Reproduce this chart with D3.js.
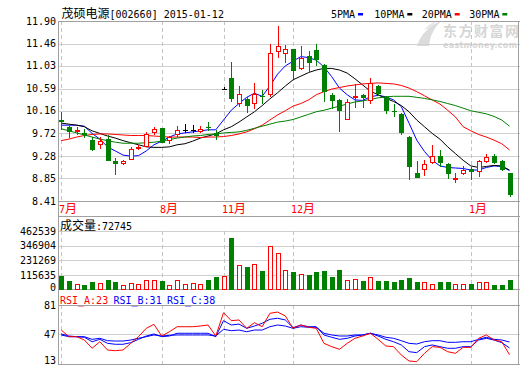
<!DOCTYPE html>
<html><head><meta charset="utf-8">
<script src="https://cdn.jsdelivr.net/npm/d3@7"></script>
<style>body{margin:0;background:#fff}svg{display:block}</style>
</head><body>
<svg id="c" width="520" height="365"></svg>
<script>
const dates = ["2014-07-15","2014-07-16","2014-07-17","2014-07-18","2014-07-21","2014-07-22","2014-07-23","2014-07-24","2014-07-25","2014-07-28","2014-07-29","2014-07-30","2014-07-31",
"2014-08-01","2014-08-04","2014-08-05","2014-08-06","2014-08-07","2014-08-08","2014-08-11","2014-08-12",
"2014-11-18","2014-11-19","2014-11-20","2014-11-21","2014-11-24","2014-11-25","2014-11-26","2014-11-27","2014-11-28",
"2014-12-01","2014-12-02","2014-12-03","2014-12-04","2014-12-05","2014-12-08","2014-12-09","2014-12-10","2014-12-11","2014-12-12","2014-12-15","2014-12-16","2014-12-17","2014-12-18","2014-12-19","2014-12-22","2014-12-23","2014-12-24","2014-12-25","2014-12-26","2014-12-29","2014-12-30","2014-12-31",
"2015-01-05","2015-01-06","2015-01-07","2015-01-08","2015-01-09","2015-01-12"];
const open  = [9.98,9.85,9.75,9.73,9.59,9.49,9.61,9.19,9.12,9.20,9.43,9.46,9.72,9.82,9.58,9.69,9.78,9.78,9.75,9.84,9.72,10.59,10.79,10.29,10.38,10.29,10.44,10.47,11.29,11.26,11.35,10.96,11.22,11.34,11.05,10.47,10.37,9.99,10.42,10.47,10.34,10.64,10.43,10.16,10.10,9.66,8.96,9.02,9.14,9.28,9.13,8.84,8.93,9.04,8.98,9.17,9.28,9.19,8.95];
const high  = [10.14,9.86,9.84,9.80,9.66,9.65,9.68,9.25,9.21,9.46,9.50,9.75,9.85,9.83,9.67,9.87,9.90,9.89,9.86,9.95,9.79,10.62,11.11,10.64,10.43,10.69,10.57,11.46,11.81,11.43,11.36,11.41,11.32,11.45,11.07,10.50,10.38,10.38,10.68,10.48,10.79,10.66,10.45,10.30,10.12,9.67,9.19,9.21,9.49,9.40,9.14,8.95,9.09,9.07,9.21,9.32,9.32,9.20,8.95];
const low   = [9.79,9.64,9.69,9.64,9.38,9.42,9.19,8.91,9.10,9.20,9.39,9.46,9.69,9.53,9.52,9.65,9.73,9.73,9.73,9.77,9.59,10.56,10.32,10.23,10.12,10.19,10.30,10.43,11.18,11.08,10.78,10.95,10.89,11.03,10.32,10.19,9.75,9.98,10.21,10.21,10.30,10.45,10.10,10.03,9.69,8.82,8.85,8.89,9.13,9.06,8.83,8.75,8.91,8.82,8.88,9.14,9.13,9.00,8.48];
const close = [9.94,9.75,9.79,9.68,9.40,9.58,9.19,9.12,9.19,9.41,9.46,9.71,9.80,9.54,9.65,9.79,9.78,9.78,9.81,9.82,9.67,10.59,10.38,10.48,10.25,10.49,10.42,11.27,11.41,11.35,10.94,11.18,11.08,11.14,10.53,10.34,10.16,10.32,10.45,10.41,10.69,10.48,10.16,10.14,9.73,9.06,8.86,9.12,9.28,9.15,8.93,8.85,9.02,8.98,9.19,9.26,9.14,9.02,8.53];
const volume = [110000,65000,47000,39000,58000,55000,79000,58000,37000,55000,47000,79000,79000,65000,37000,79000,47000,55000,47000,73000,102000,110000,410000,197000,181000,205000,151000,347000,290000,158000,143000,126000,118000,136000,150000,97000,158000,79000,87000,71000,100000,71000,71000,58000,79000,95000,58000,58000,47000,58000,58000,47000,47000,47000,58000,58000,39000,39000,72745];
const ma5  = [9.88,9.88,9.88,9.86,9.72,9.61,9.46,9.38,9.30,9.28,9.29,9.38,9.50,9.57,9.65,9.71,9.73,9.75,9.77,9.79,9.79,9.98,10.17,10.30,10.42,10.50,10.44,10.64,10.87,11.03,11.12,11.21,11.19,11.14,11.01,10.82,10.60,10.47,10.37,10.36,10.43,10.46,10.43,10.37,10.24,9.92,9.59,9.37,9.20,9.09,9.06,9.05,9.04,9.01,9.01,9.06,9.09,9.08,9.00];
const ma10 = [9.92,9.90,9.88,9.85,9.77,9.72,9.67,9.63,9.58,9.54,9.50,9.46,9.45,9.45,9.46,9.50,9.52,9.57,9.63,9.67,9.71,9.79,9.85,9.94,10.04,10.14,10.26,10.39,10.51,10.64,10.76,10.83,10.90,10.95,10.98,10.98,10.95,10.89,10.78,10.66,10.54,10.47,10.40,10.34,10.26,10.14,9.98,9.85,9.72,9.61,9.46,9.33,9.20,9.09,9.06,9.08,9.10,9.09,9.01];
const ma20 = [9.58,9.61,9.65,9.68,9.70,9.71,9.71,9.70,9.69,9.68,9.68,9.68,9.67,9.66,9.65,9.65,9.65,9.65,9.64,9.65,9.65,9.66,9.68,9.71,9.75,9.81,9.88,9.98,10.08,10.16,10.25,10.30,10.37,10.47,10.53,10.58,10.61,10.64,10.66,10.68,10.69,10.70,10.69,10.68,10.65,10.60,10.53,10.45,10.37,10.29,10.17,10.04,9.85,9.77,9.70,9.65,9.59,9.52,9.40];
const ma30 = [9.81,9.77,9.73,9.69,9.65,9.61,9.58,9.55,9.53,9.53,9.53,9.54,9.55,9.57,9.60,9.63,9.65,9.67,9.68,9.70,9.71,9.73,9.74,9.75,9.78,9.82,9.86,9.90,9.94,9.96,9.99,10.04,10.09,10.14,10.17,10.21,10.25,10.29,10.33,10.35,10.38,10.41,10.43,10.44,10.44,10.44,10.42,10.40,10.37,10.34,10.30,10.26,10.21,10.16,10.13,10.10,10.05,9.98,9.86];
const rsiA = [52,44.2,44.2,40.3,30.6,38.3,28.6,27.8,28.6,36.4,44.2,54,58.7,45,50,55.9,55.9,55.9,56.7,57.9,45,72.3,63,63.8,54,60.6,55.9,71.6,73.1,68.5,54,57.9,55.2,54,36.4,32.5,29.4,36.4,42.3,45,48.2,41.1,33.3,32.5,22.7,15.7,14.9,24.7,32.5,31.7,26.6,24.7,31.7,31.7,42.3,46.2,40.3,38.3,23];
const rsiB = [47.4,45,44.2,43.5,38.3,41.1,36.4,35.3,35.3,37.2,41.1,45,47.4,44.2,45,48.2,48.2,48.2,48.2,48.2,44.2,63,57.9,59,54,56.7,59.9,64.6,65.8,63.8,54.8,57.9,55.9,55.9,46.2,43.5,41.1,42.3,45,46.2,48.2,45,41.1,38.3,34.5,26.6,25.5,32.5,34.5,32.5,30.6,30.6,32.5,32.5,40.3,42.3,40.3,37.2,31];
const rsiC = [46.2,44.2,44.2,44.2,41.1,42.3,39.5,39.1,39.1,40.3,42.3,44.2,46.2,45,45.8,46.2,46.2,46.2,46.2,46.2,45,52.9,51.2,52,50,52,52,55.9,57.9,56.7,54,55.9,55.2,55.2,48.2,46.2,45,45,46.2,46.2,48.2,46.2,43.5,42.3,39.5,36.4,35.6,38.3,39.5,39.5,37.6,37.6,38.3,38.3,41.1,43.5,41.1,40.3,38];
const priceTicks = [11.90,11.46,11.03,10.59,10.16,9.72,9.28,8.85,8.41];
const volumeTicks = [462539,346904,231269,115635,0];
const rsiTicks = [81,47,13];
const maNames = ["5PMA","10PMA","20PMA","30PMA"];
const maColors = ["#0000ff","#000000","#ff0000","#008000"];
const title = "茂硕电源[002660] 2015-01-12";
const volTitle = "成交量:72745";
const rsiLabels = ["RSI_A:23","RSI_B:31","RSI_C:38"];

const RED="#ff0000", GREEN="#008000", FRAME="#a0a0a0", GRID="#d0d0d0";
const MONO="DejaVu Sans Mono", CJK="Noto Sans CJK SC";
const svg = d3.select("#c");
const L = 58.5, R = 519.5;

const x = d3.scalePoint().domain(dates).range([61.2, 509.5]);
const yP = d3.scaleLinear().domain([8.41, 11.90]).range([201, 21]);
const yV = d3.scaleLinear().domain([0, 462539]).range([289.5, 231.3]);
const yR = d3.scaleLinear().domain([13, 81]).range([363.3, 305.3]);
const px = d => Math.round(x(d)) + 0.5;

function mixed(g, tx, ty, str, fill, anchor) {
  const t = g.append("text").attr("x", tx).attr("y", ty).attr("fill", fill || "#000");
  if (anchor) t.attr("text-anchor", anchor);
  const runs = str.match(/[\u3000-\u9fff\uff00-\uffef]+|[^\u3000-\u9fff\uff00-\uffef]+/g);
  runs.forEach(r => {
    const cj = /[\u3000-\u9fff]/.test(r);
    t.append("tspan").text(r).attr("font-family", cj ? CJK : MONO)
      .attr("font-size", cj ? 12 : 10).attr("xml:space","preserve");
  });
  return t;
}

// watermark
const wm = svg.append("g");
wm.append("path").attr("d","M417,46 C420,36 428,26 441,21 C434,28 430,36 429,46 Z").attr("fill","#dcdcdc");
wm.append("path").attr("d","M424,30 C427,26 431,23 436,21 L432,27 Z").attr("fill","#e6e6e6");
wm.append("text").attr("x",443).attr("y",35.5).text("东方财富网").attr("font-family",CJK)
  .attr("font-size",14).attr("font-weight","bold").attr("fill","#d6d6d6").attr("textLength",76);
wm.append("text").attr("x",443).attr("y",48).text("eastmoney.com").attr("font-family","DejaVu Sans")
  .attr("font-size",8).attr("font-weight","bold").attr("fill","#d6d6d6").attr("textLength",74);

// month boundaries
const monthIdx = dates.map((d,i)=>i).filter(i => i===0 || dates[i].slice(0,7)!==dates[i-1].slice(0,7));

// grids
const grid = svg.append("g").attr("shape-rendering","crispEdges");
priceTicks.forEach(t => grid.append("line").attr("x1",L).attr("x2",R).attr("y1",Math.round(yP(t))+0.5).attr("y2",Math.round(yP(t))+0.5).attr("stroke",GRID));
volumeTicks.slice(0,4).forEach(t => grid.append("line").attr("x1",L).attr("x2",R).attr("y1",Math.round(yV(t))+0.5).attr("y2",Math.round(yV(t))+0.5).attr("stroke",GRID));
grid.append("line").attr("x1",L).attr("x2",R).attr("y1",Math.round(yR(47))+0.5).attr("y2",Math.round(yR(47))+0.5).attr("stroke",GRID);
monthIdx.forEach(i => {
  const xx = px(dates[i]);
  [[21,201],[231.3,289.5],[305.3,364]].forEach(([a,b]) =>
    grid.append("line").attr("x1",xx).attr("x2",xx).attr("y1",a).attr("y2",b)
      .attr("stroke","#c4c4c4").attr("stroke-dasharray","4,3"));
});

// frame
const fr = svg.append("g").attr("shape-rendering","crispEdges").attr("stroke",FRAME);
[21.5,201.5,216.5,289.5,305.5,364.5].forEach(y => fr.append("line").attr("x1",L).attr("x2",R).attr("y1",y).attr("y2",y));
[L, R-1].forEach(xx => fr.append("line").attr("x1",xx).attr("x2",xx).attr("y1",21).attr("y2",365));

// axis labels
const ax = svg.append("g").attr("font-family",MONO).attr("font-size",10).attr("fill","#000");
priceTicks.forEach(t => ax.append("text").attr("x",56).attr("y",yP(t)+3.6).attr("text-anchor","end").text(t.toFixed(2)));
volumeTicks.forEach(t => ax.append("text").attr("x",56).attr("y",Math.min(yV(t),287)+3.6).attr("text-anchor","end").text(t));
rsiTicks.forEach(t => ax.append("text").attr("x",56).attr("y",Math.min(yR(t),360)+3.6).attr("text-anchor","end").text(t));

// month labels
monthIdx.forEach(i => {
  const m = +dates[i].slice(5,7);
  mixed(svg, px(dates[i]) - 2.5, 213, m + "月", RED);
});

// title, legend
mixed(svg, 61.5, 18, title);
const lg = svg.append("g");
const legX = [331, 374.3, 421.7, 469.3];
maNames.forEach((n,k) => {
  lg.append("text").attr("x",legX[k]).attr("y",18).text(n).attr("font-family",MONO).attr("font-size",10);
  const w = n.length*6;
  lg.append("rect").attr("x",legX[k]+w+3).attr("y",13).attr("width",5).attr("height",2.5).attr("fill",maColors[k]);
});
mixed(svg, 60, 230, volTitle);
const rl = svg.append("g").attr("font-family",MONO).attr("font-size",10);
[[60,RED],[113.5,"#0000ff"],[167,"#0000ff"]].forEach(([xx,c],k) =>
  rl.append("text").attr("x",xx).attr("y",303.5).attr("fill",c).text(rsiLabels[k]));

// MA lines
const maG = svg.append("g").attr("fill","none").attr("stroke-width",1);
[ma5, ma10, ma20, ma30].forEach((arr,k) => {
  const line = d3.line().x((d,i)=>x(dates[i])).y(d=>yP(d));
  maG.append("path").attr("d", line(arr)).attr("stroke", maColors[k]);
});

// candles
const cg = svg.append("g").attr("shape-rendering","crispEdges");
dates.forEach((d,i) => {
  const cx = px(d), o=open[i], c=close[i], h=high[i], l=low[i];
  const yT = Math.round(yP(Math.max(o,c))), yB = Math.round(yP(Math.min(o,c)));
  const yH = Math.round(yP(h)), yL = Math.round(yP(l));
  if (c > o) {
    cg.append("line").attr("x1",cx).attr("x2",cx).attr("y1",yH).attr("y2",yT).attr("stroke",RED);
    cg.append("line").attr("x1",cx).attr("x2",cx).attr("y1",yB).attr("y2",yL).attr("stroke",RED);
    cg.append("rect").attr("x",cx-2).attr("y",yT+0.5).attr("width",4).attr("height",Math.max(1,yB-yT-1))
      .attr("fill","#fff").attr("stroke",RED);
  } else if (c < o) {
    cg.append("line").attr("x1",cx).attr("x2",cx).attr("y1",yH).attr("y2",yL).attr("stroke",GREEN);
    cg.append("rect").attr("x",cx-2.5).attr("y",yT).attr("width",5).attr("height",Math.max(1,yB-yT)).attr("fill",GREEN);
  } else {
    cg.append("line").attr("x1",cx).attr("x2",cx).attr("y1",yH).attr("y2",yL).attr("stroke","#000");
    cg.append("line").attr("x1",cx-2.5).attr("x2",cx+2.5).attr("y1",yT+0.5).attr("y2",yT+0.5).attr("stroke","#000");
  }
});

// volume bars
const vg = svg.append("g").attr("shape-rendering","crispEdges");
dates.forEach((d,i) => {
  const cx = px(d), top = Math.round(yV(volume[i])), bot = 289;
  if (close[i] >= open[i]) {
    vg.append("rect").attr("x",cx-2).attr("y",top+0.5).attr("width",4).attr("height",bot-top-0.5)
      .attr("fill","#fff").attr("stroke",RED);
  } else {
    vg.append("rect").attr("x",cx-2.5).attr("y",top).attr("width",5).attr("height",bot-top+0.5).attr("fill",GREEN);
  }
});

// RSI lines
const rg = svg.append("g").attr("fill","none");
const rline = d3.line().x((d,i)=>x(dates[i])).y(d=>yR(d));
[[rsiC,"#0000ff"],[rsiB,"#0000ff"],[rsiA,RED]].forEach(([arr,c]) =>
  rg.append("path").attr("d", rline(arr)).attr("stroke", c));
</script>
</body></html>
